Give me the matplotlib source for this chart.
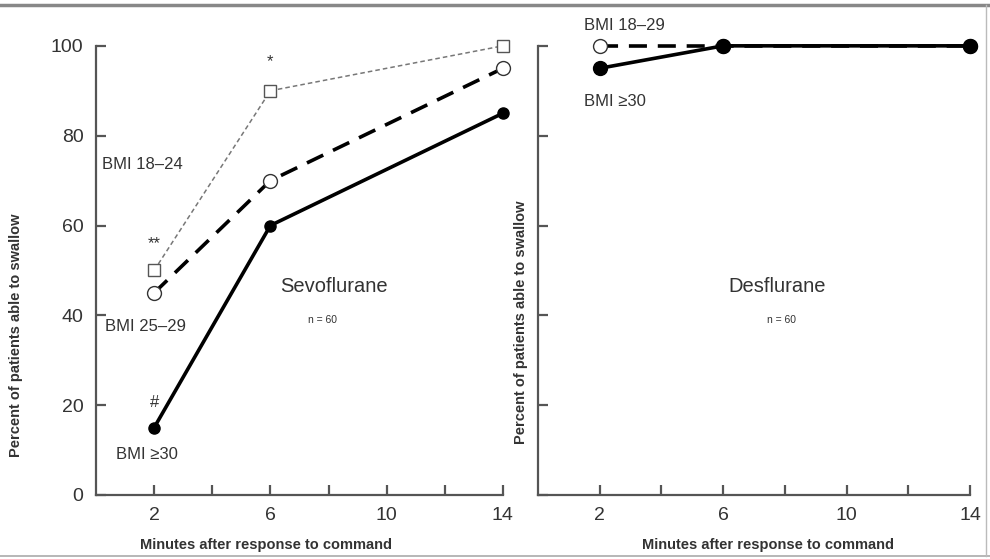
import matplotlib
matplotlib.use("Agg")
import matplotlib.pyplot as plt
from matplotlib.lines import Line2D

plt.rcParams["font.family"] = ["Liberation Sans", "DejaVu Sans"]

# data
minutes = [2, 6, 14]
sevo_bmi_18_24 = [50, 90, 100]
sevo_bmi_25_29 = [45, 70, 95]
sevo_bmi_30 = [15, 60, 85]
des_bmi_18_29 = [100, 100, 100]
des_bmi_30 = [95, 100, 100]

x_ticks = [2, 4, 6, 8, 10, 12, 14]
x_tick_labels = ["2", "", "6", "", "10", "", "14"]
y_ticks = [0, 20, 40, 60, 80, 100]

spine_color = "#555555"
text_color = "#333333"

fig = plt.figure(figsize=(9.9, 5.59), dpi=100)
ax1 = fig.add_axes([0.097, 0.1145, 0.411, 0.8035])
ax2 = fig.add_axes([0.5434, 0.1145, 0.4364, 0.8035])


def style_axis(ax, show_ylabels, xlabel_x):
    """Shared axis styling"""
    ax.set_xlim(0, 14)
    ax.set_ylim(0, 100)
    ax.spines["top"].set_visible(False)
    ax.spines["right"].set_visible(False)
    for side in ["left", "bottom"]:
        ax.spines[side].set_color(spine_color)
        ax.spines[side].set_linewidth(1.6)
    ax.set_xticks(x_ticks)
    ax.set_xticklabels(x_tick_labels)
    ax.set_yticks(y_ticks)
    if show_ylabels:
        ax.set_yticklabels([str(v) for v in y_ticks])
    else:
        ax.set_yticklabels([])
    ax.tick_params(direction="in", length=7, width=1.6, color=spine_color,
                   labelsize=14, labelcolor=text_color, pad=9)
    ax.set_xlabel("Minutes after response to command", fontsize=10.5,
                  fontweight="bold", color=text_color)
    ax.xaxis.set_label_coords(xlabel_x, -0.095)


# Sevoflurane
ax1.plot(minutes, sevo_bmi_18_24, linestyle=(0, (3, 2)), color="#777777",
         linewidth=1.1, marker="s", markersize=8, markerfacecolor="white",
         markeredgecolor="#555555", clip_on=False, zorder=3)
ax1.plot(minutes, sevo_bmi_25_29, linestyle=(0, (5, 3)), color="black",
         linewidth=2.6, marker="o", markersize=10, markerfacecolor="white",
         markeredgecolor=text_color, markeredgewidth=1.0, clip_on=False, zorder=4)
ax1.plot(minutes, sevo_bmi_30, linestyle="-", color="black", linewidth=2.6,
         marker="o", markersize=8, markerfacecolor="black", clip_on=False, zorder=5)
style_axis(ax1, True, 0.418)
ax1.text(0.2, 73.5, "BMI 18–24", fontsize=12, color=text_color, va="center")
ax1.text(0.3, 37.5, "BMI 25–29", fontsize=12, color=text_color, va="center")
ax1.text(0.7, 9, "BMI ≥30", fontsize=12, color=text_color, va="center")
ax1.text(2, 56, "**", fontsize=12, color=text_color, ha="center", va="center")
ax1.text(6, 96.5, "*", fontsize=12, color=text_color, ha="center", va="center")
ax1.text(2, 20.5, "#", fontsize=12, color=text_color, ha="center", va="center")
ax1.text(8.2, 46.5, "Sevoflurane", fontsize=14.5, color=text_color,
         ha="center", va="center")
ax1.text(7.8, 39, "n = 60", fontsize=7.5, color=text_color, ha="center", va="center")
ax1.set_ylabel("Percent of patients able to swallow", fontsize=10.5,
               fontweight="bold", color=text_color)
ax1.yaxis.set_label_coords(-0.18, 0.355)

# Desflurane
ax2.plot(minutes, des_bmi_18_29, linestyle=(0, (5, 3)), color="black",
         linewidth=2.6, marker="o", markersize=10, markerfacecolor="white",
         markeredgecolor=text_color, markeredgewidth=1.0, clip_on=False, zorder=3)
ax2.plot(minutes, des_bmi_30, linestyle="-", color="black", linewidth=2.6,
         marker="o", markersize=10, markerfacecolor="black", clip_on=False, zorder=4)
style_axis(ax2, False, 0.532)
ax2.text(1.5, 104.5, "BMI 18–29", fontsize=12, color=text_color, va="center",
         clip_on=False)
ax2.text(1.5, 87.5, "BMI ≥30", fontsize=12, color=text_color, va="center")
ax2.text(7.75, 46.5, "Desflurane", fontsize=14.5, color=text_color,
         ha="center", va="center")
ax2.text(7.9, 39, "n = 60", fontsize=7.5, color=text_color, ha="center", va="center")
ax2.set_ylabel("Percent of patients able to swallow", fontsize=10.5,
               fontweight="bold", color=text_color)
ax2.yaxis.set_label_coords(-0.022, 0.385)

# frame lines around the figure
fig.add_artist(Line2D([0, 1], [0.991, 0.991], transform=fig.transFigure,
                      color="#888888", linewidth=2.5))
fig.add_artist(Line2D([0, 1], [0.005, 0.005], transform=fig.transFigure,
                      color="#aaaaaa", linewidth=1.2))
fig.add_artist(Line2D([0.996, 0.996], [0.005, 0.991], transform=fig.transFigure,
                      color="#bbbbbb", linewidth=1.0))

fig.savefig("out.png", dpi=100)
